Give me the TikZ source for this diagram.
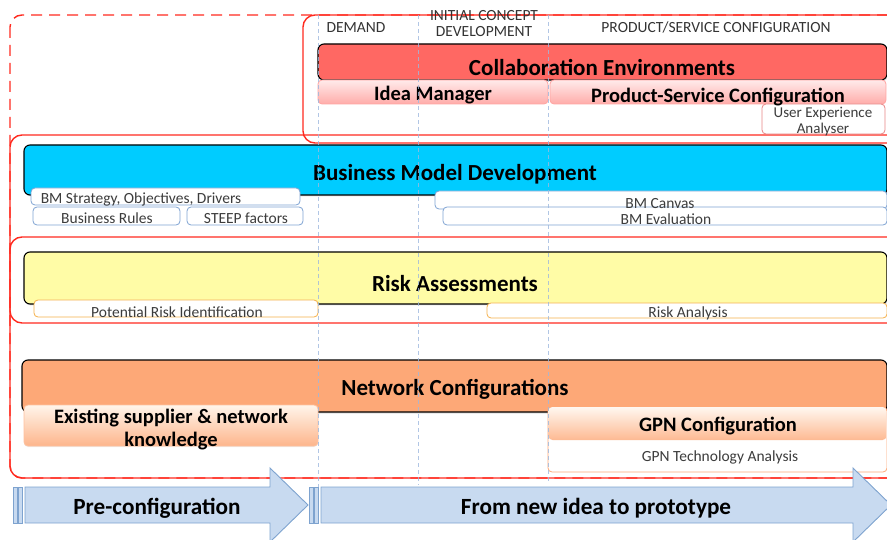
\documentclass[tikz,border=0pt]{standalone}
\usepackage{fontspec}
\setmainfont{Carlito}
\usetikzlibrary{shadows}
\definecolor{redline}{HTML}{FF2A1F}
\definecolor{collabfill}{HTML}{FF6863}
\definecolor{bmdfill}{HTML}{00CCFF}
\definecolor{riskfill}{HTML}{FFFCA6}
\definecolor{netfill}{HTML}{FDA877}
\definecolor{bmborder}{HTML}{7FA3D3}
\definecolor{riskborder}{HTML}{F5B04A}
\definecolor{uxborder}{HTML}{E88585}
\definecolor{arrowfill}{HTML}{C8DAF0}
\definecolor{arrowborder}{HTML}{7EA3CF}
\definecolor{phaseline}{HTML}{9DB8DE}
\definecolor{headtext}{HTML}{333333}
\definecolor{subtext}{HTML}{3C3C3C}
\begin{document}
\begin{tikzpicture}[x=1pt,y=-1pt,
  groupbox/.style={draw=redline,line width=1.4pt,rounded corners=12pt},
  phase/.style={draw=phaseline,line width=0.9pt,dash pattern=on 4pt off 3pt},
  bar/.style={draw=black,line width=1.1pt,rounded corners=6pt,inner sep=0pt,
    drop shadow={shadow xshift=1pt,shadow yshift=-1.5pt,opacity=0.25}},
  subbox/.style={rectangle,rounded corners=4pt,inner sep=0pt,line width=0.8pt},
  bigtext/.style={font=\fontsize{23}{26}\selectfont\bfseries,text=black,inner sep=0pt,yshift=-1.5pt},
  midtext/.style={font=\fontsize{20.5}{23}\selectfont\bfseries,text=black,inner sep=0pt,align=center,yshift=-1.5pt},
  smalltext/.style={font=\fontsize{15.5}{16}\selectfont,text=subtext,inner sep=0pt,align=center,yshift=-1.5pt},
  headlabel/.style={font=\fontsize{15.5}{16}\selectfont,text=headtext,inner sep=0pt,align=center,yshift=-1.5pt},
  arrowtext/.style={font=\fontsize{23.2}{26}\selectfont\bfseries,text=black,inner sep=0pt,yshift=-1.5pt},
  arrowshape/.style={fill=arrowfill,draw=arrowborder,line width=0.9pt}
]
\useasboundingbox (0,0) rectangle (887,540);

% red group outlines
\draw[groupbox,dash pattern=on 11pt off 7pt] (10,15) rectangle (900,478);
\draw[groupbox] (303,15) rectangle (900,143);
\draw[groupbox] (10,135) rectangle (900,478);
\draw[groupbox] (10,237) rectangle (900,323);

% header labels
\node[headlabel] (hdemand) at (356,26) {DEMAND};
\node[headlabel] (hinit) at (484,22) {INITIAL CONCEPT\\DEVELOPMENT};
\node[headlabel] (hprod) at (716,26) {PRODUCT/SERVICE CONFIGURATION};

% Collaboration environments
\node[bar,fill=collabfill,minimum width=569pt,minimum height=36pt] (collab) at (602.5,62) {};
\node[subbox,draw=collabfill!60,top color=red!8,bottom color=collabfill!55,minimum width=230pt,minimum height=24pt] (idea) at (433,92) {};
\node[subbox,draw=collabfill!60,top color=red!8,bottom color=collabfill!55,minimum width=336pt,minimum height=24pt] (psc) at (718,92) {};
\node[subbox,draw=uxborder,fill=white,minimum width=123pt,minimum height=30pt] (ux) at (823.5,119) {};
\node[bigtext] (collabt) at (602,66) {Collaboration Environments};
\node[midtext] (ideat) at (433,94) {Idea Manager};
\node[midtext] (psct) at (718,96) {Product-Service Configuration};
\node[smalltext,font=\fontsize{15}{16}\selectfont] (uxt) at (823,120) {User Experience\\Analyser};

% Business model development
\node[bar,fill=bmdfill,minimum width=863pt,minimum height=50pt] (bmd) at (455.5,170) {};
\node[subbox,draw=bmborder,fill=white,minimum width=452pt,minimum height=18pt] (canvas) at (661,200) {};
\node[subbox,draw=bmborder,fill=white,minimum width=444pt,minimum height=18pt] (eval) at (665,216) {};
\node[subbox,draw=bmborder,fill=white,minimum width=269pt,minimum height=17pt] (bms) at (165.5,196.5) {};
\node[subbox,draw=bmborder,fill=white,minimum width=147pt,minimum height=18pt] (br) at (106.5,216) {};
\node[subbox,draw=bmborder,fill=white,minimum width=116pt,minimum height=18pt] (steep) at (245,216) {};
\node[bigtext] (bmdt) at (455,173) {Business Model Development};
\node[smalltext] (bmst) at (141,198) {BM Strategy, Objectives, Drivers};
\node[smalltext] (brt) at (107,217) {Business Rules};
\node[smalltext] (steept) at (246,217) {STEEP factors};
\node[smalltext] (canvast) at (660,202) {BM Canvas};
\node[smalltext] (evalt) at (666,218) {BM Evaluation};

% Risk assessments
\node[bar,fill=riskfill,minimum width=863pt,minimum height=52pt] (risk) at (455.5,278) {};
\node[subbox,draw=riskborder,fill=white,minimum width=284pt,minimum height=17pt] (pri) at (176,308.5) {};
\node[subbox,draw=riskborder,fill=white,minimum width=400pt,minimum height=15pt] (ra) at (687,310.5) {};
\node[bigtext] (riskt) at (455,282) {Risk Assessments};
\node[smalltext] (prit) at (177,311) {Potential Risk Identification};
\node[smalltext] (rat) at (688,312) {Risk Analysis};

% Network configurations
\node[bar,fill=netfill,minimum width=865pt,minimum height=52pt] (net) at (454.5,386) {};
\node[subbox,draw=netfill!70,top color=orange!8,bottom color=netfill!85,minimum width=294pt,minimum height=41pt,
  drop shadow={shadow xshift=0pt,shadow yshift=-1pt,opacity=0.15}] (esk) at (171,425.5) {};
\node[subbox,draw=netfill,fill=white,minimum width=339pt,minimum height=65pt] (gpnall) at (717.5,439.5) {};
\node[subbox,rounded corners=4pt,top color=orange!6,bottom color=netfill!80,minimum width=338pt,minimum height=33pt] (gpn) at (717.5,423.5) {};
\node[bigtext] (nett) at (455,388) {Network Configurations};
\node[midtext] (eskt) at (171,428.5) {Existing supplier \& network\\knowledge};
\node[midtext] (gpnt) at (718,425) {GPN Configuration};
\node[smalltext] (gtat) at (720,456) {GPN Technology Analysis};

% phase separators
\coordinate (p1top) at (318,15); \coordinate (p1bot) at (318,487);
\coordinate (p2top) at (418,15); \coordinate (p2bot) at (418,485);
\coordinate (p3top) at (548,15); \coordinate (p3bot) at (548,483);
\draw[phase,opacity=0.8] (p1top) -- (p1bot);
\draw[phase,opacity=0.8] (p2top) -- (p2bot);
\draw[phase,opacity=0.8] (p3top) -- (p3bot);

% bottom arrows
\draw[arrowshape] (13,487) rectangle (17,523);
\draw[arrowshape] (18,487) rectangle (22,523);
\draw[arrowshape] (25,487) -- (270,487) -- (270,468) -- (308,505) -- (270,542) -- (270,523) -- (25,523) -- cycle;
\draw[arrowshape] (309,487) rectangle (313,523);
\draw[arrowshape] (314,487) rectangle (318,523);
\draw[arrowshape] (321,487) -- (853,487) -- (853,468) -- (891,505) -- (853,542) -- (853,523) -- (321,523) -- cycle;
\node[arrowtext] (pre) at (157,507) {Pre-configuration};
\node[arrowtext] (proto) at (596,507) {From new idea to prototype};
\end{tikzpicture}
\end{document}
